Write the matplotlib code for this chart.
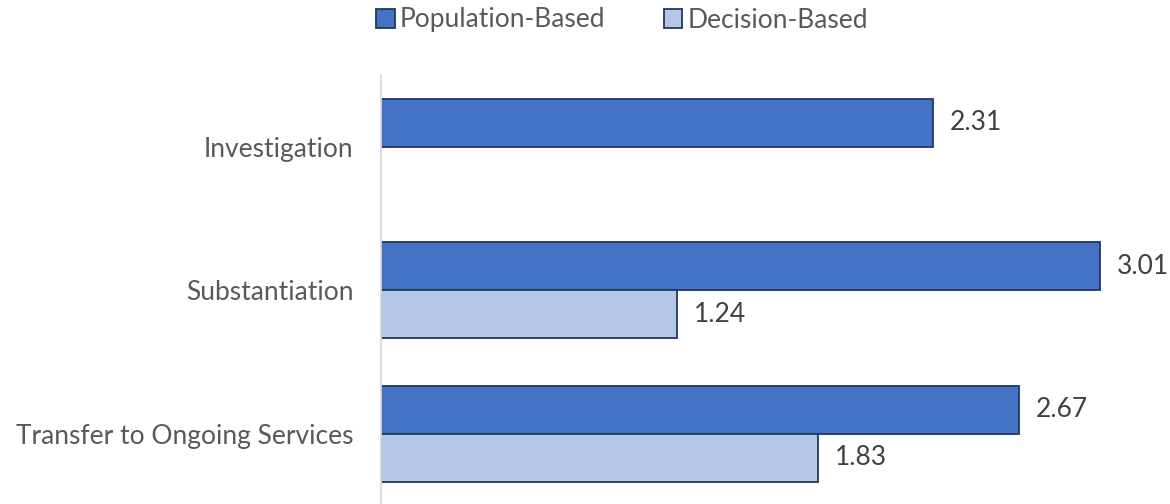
import matplotlib
matplotlib.use("Agg")
from matplotlib import pyplot as plt
from matplotlib.patches import Patch
import numpy as np

categories = ["Investigation", "Substantiation", "Transfer to Ongoing Services"]
population = [2.31, 3.01, 2.67]
decision = [None, 1.24, 1.83]
series_names = ["Population-Based", "Decision-Based"]

plt.rcParams['font.family'] = ['Lato', 'DejaVu Sans']

fig = plt.figure(figsize=(11.7, 5.04), dpi=100)
# axes placed in pixels: zero line at x=381, top at y=75
ax = fig.add_axes([381 / 1170, 0, (1150 - 381) / 1170, (504 - 75) / 504])

y = np.arange(len(categories))
h = 1 / 3
edge = '#203864'
c_pop, c_dec = '#4472C4', '#B4C7E7'

pop_bars = ax.barh(y - h / 2, population, height=h, color=c_pop,
                   edgecolor=edge, linewidth=1.3)
dec_vals = [v if v is not None else 0 for v in decision]
dec_bars = ax.barh(y + h / 2, dec_vals, height=h, color=c_dec,
                   edgecolor=edge, linewidth=1.3)
for b, v in zip(dec_bars, decision):
    if v is None:
        b.set_visible(False)

for bars, vals in [(pop_bars, population), (dec_bars, decision)]:
    for b, v in zip(bars, vals):
        if v is None:
            continue
        ax.annotate(f"{v:.2f}", (b.get_width(), b.get_y() + b.get_height() / 2),
                    xytext=(12, 0), textcoords='offset points',
                    va='center', ha='left', fontsize=19, color='#404040')

ax.set_xlim(0, (1150 - 381) / 238.8)
ax.set_ylim(2.49, -0.5)
ax.set_yticks(y)
ax.set_yticklabels(categories, fontsize=19, color='#595959')
ax.tick_params(axis='y', length=0, pad=20)
ax.set_xticks([])
for s in ['top', 'right', 'bottom']:
    ax.spines[s].set_visible(False)
ax.spines['left'].set_color('#D9D9D9')
ax.spines['left'].set_linewidth(1.3)

handles = [Patch(facecolor=c_pop, edgecolor=edge, linewidth=1.3),
           Patch(facecolor=c_dec, edgecolor=edge, linewidth=1.3)]
fig.legend(handles, series_names, loc='center',
           bbox_to_anchor=(622 / 1170, 1 - 20 / 504), ncol=2,
           frameon=False, fontsize=19, handlelength=0.7, handleheight=0.7,
           handletextpad=0.2, columnspacing=2.2, labelcolor='#595959')

fig.savefig("out.png", dpi=100)
